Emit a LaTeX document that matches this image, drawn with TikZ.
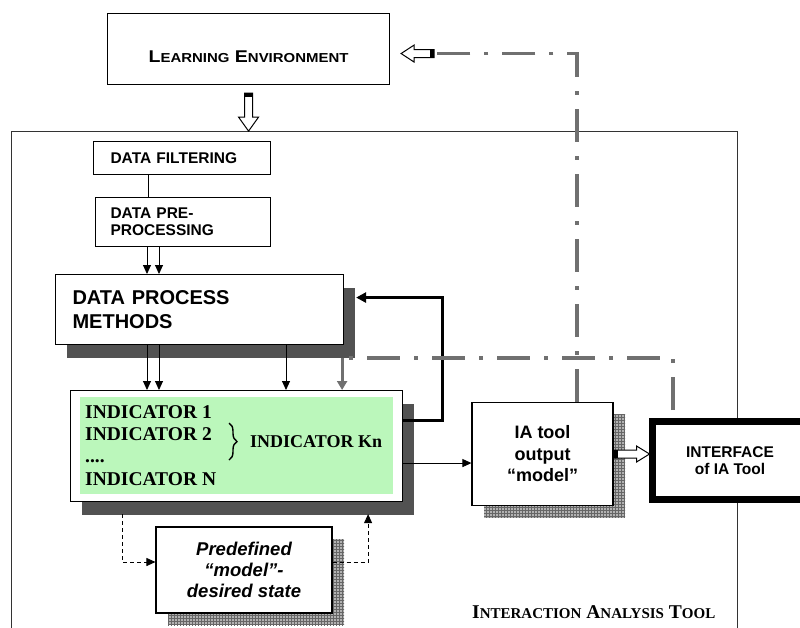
\documentclass[tikz,border=0pt]{standalone}
\usepackage{fontspec}
\setmainfont{Liberation Serif}
\setsansfont{Liberation Sans}
\usepackage{graphicx}
\usetikzlibrary{positioning,calc,arrows.meta,shadows,patterns,decorations.pathreplacing}

\definecolor{indgreen}{RGB}{187,247,187}
\definecolor{linkgray}{RGB}{112,112,112}

\newcommand{\minicap}[2]{{\fontsize{#1}{#1}\selectfont #2}}

\begin{document}
\begin{tikzpicture}[x=1pt,y=-1pt,
    box/.style={draw, fill=white, line width=1.1pt, inner sep=0pt},
    dark shadow/.style={drop shadow={shadow xshift=11pt, shadow yshift=-13pt, fill=black!68, opacity=1}},
    grid shadow/.style={drop shadow={shadow xshift=12pt, shadow yshift=-12pt, fill=black!30, opacity=1,
                        postaction={pattern=grid, pattern color=black!60}}},
    arr/.style={-{Triangle[length=9pt,width=8pt]}, line width=0.9pt},
    fb/.style={-{Triangle[length=10pt,width=10pt]}, line width=3pt},
    dashdot/.style={draw=linkgray, line width=3.5pt, dash pattern=on 33pt off 14pt on 4pt off 14pt},
    grayarr/.style={draw=linkgray, line width=3pt, -{Triangle[length=9pt,width=10pt]}},
    dsh/.style={-{Triangle[length=9pt,width=8pt]}, line width=0.9pt, dash pattern=on 4pt off 3pt},
    hollow/.style={draw, fill=white, line width=1pt}]

  \useasboundingbox (0,0) rectangle (800,627);

  % outer frame of the tool
  \node[draw=black!80, line width=0.9pt, minimum width=726pt, minimum height=540pt,
        anchor=north west] (tool) at (11,131) {};

  \node[box, anchor=north west, minimum width=282pt, minimum height=71pt,
        text height=49pt, text depth=22pt] (env) at (107,13)
    {\sffamily\bfseries\fontsize{17}{17}\selectfont
     \scalebox{1.15}[1]{L\minicap{13}{EARNING} E\minicap{13}{NVIRONMENT}}};

  \node[box, anchor=north west, minimum width=177pt, minimum height=33pt,
        inner xsep=17pt, text width=143pt, align=left,
        font=\sffamily\bfseries\fontsize{15.5}{17}\selectfont] (filt) at (93,141) {DATA FILTERING};
  \node[box, below=22pt of filt.south west, anchor=north west, xshift=2pt,
        minimum width=175pt, minimum height=49pt, inner xsep=15pt, text width=145pt, align=left,
        font=\sffamily\bfseries\fontsize{15.5}{17}\selectfont] (pre) {DATA PRE-\\PROCESSING};

  \node[box, dark shadow, anchor=north west, minimum width=288pt, minimum height=70pt,
        inner xsep=17pt, text width=254pt, align=left,
        font=\sffamily\bfseries\fontsize{20}{24}\selectfont] (dpm) at (55,274) {DATA PROCESS\\METHODS};

  \node[box, dark shadow, anchor=north west, minimum width=332pt, minimum height=111pt] (ind) at (70,390) {};
  \fill[indgreen] ([shift={(10pt,-7pt)}]ind.north west) rectangle ([shift={(-10pt,8pt)}]ind.south east);
  \node[anchor=north west, align=left, inner sep=0pt,
        font=\bfseries\fontsize{19.5}{22.3}\selectfont] (list) at (85,405)
    {INDICATOR 1\\INDICATOR 2\\....\\INDICATOR N};
  \draw[line width=1.4pt, decorate, decoration={brace, amplitude=8pt}]
    ($(ind.north west)+(159,33)$) -- ($(ind.north west)+(159,70)$);
  \node[anchor=base west, inner sep=0pt, font=\bfseries\fontsize{18}{20}\selectfont] (kn) at (250,447) {INDICATOR Kn};

  \node[box, grid shadow, minimum width=176pt, minimum height=86pt, align=center,
        font=\sffamily\bfseries\itshape\fontsize{18.5}{21}\selectfont] (pdm) at (244,570)
    {Predefined\\``model''-\\desired state};

  \node[box, grid shadow, minimum width=141pt, minimum height=103pt, align=center,
        font=\sffamily\bfseries\fontsize{18}{21.5}\selectfont] (ia) at (542.5,454)
    {IA tool\\output\\``model''};

  \node[draw, fill=white, line width=7pt, minimum width=155pt, minimum height=78pt, align=center,
        font=\sffamily\bfseries\fontsize{15.5}{17}\selectfont] (intf) at (730,460.5)
    {INTERFACE\\of IA Tool};

  \node[anchor=base west, inner sep=0pt, font=\bfseries\fontsize{19.5}{20}\selectfont] (title) at (472,618)
    {I\minicap{15}{NTERACTION} A\minicap{15}{NALYSIS} T\minicap{15}{OOL}};

  % connectors
  \draw[line width=0.9pt] ([xshift=55pt]filt.south west) -- ([xshift=53pt]pre.north west);
  \foreach \dx in {52,64} {
    \coordinate (p) at ([xshift=\dx pt]pre.south west);
    \draw[arr] (p) -- (p |- dpm.north);
  }
  \foreach \dx in {92,104,231} {
    \coordinate (q) at ([xshift=\dx pt]dpm.south west);
    \draw[arr] (q) -- (q |- ind.north);
  }
  \draw[fb] ([yshift=25.5pt]ind.east) -- ++(39,0) |- ([xshift=12pt,yshift=12pt]dpm.east);
  \coordinate (tap) at ([yshift=-17pt]ind.east);
  \draw[arr] (tap) -- (tap -| ia.west);

  \draw[dsh] ([xshift=52pt,yshift=-12pt]ind.south west) |- ([yshift=8pt]pdm.west);
  \draw[dsh] ([yshift=8pt]pdm.east) -| ([xshift=-35pt,yshift=-12pt]ind.south east);

  % feedback lines
  \coordinate (envback) at ($(env.east)+(44,4.5)$);
  \draw[dashdot] ([xshift=34.5pt]ia.north) |- (envback);
  \coordinate (intap) at ([xshift=24pt,yshift=8pt]intf.north west);
  \coordinate (back) at ($(dpm.south east)+(-2,13)$);
  \draw[dashdot] (intap) |- (back);
  \draw[grayarr] (back) -- (back |- ind.north);

  % hollow arrows
  \draw[hollow] ([yshift=-8pt]env.south) ++(-4,0) -- ++(8,0) -- ++(0,24) -- ++(6,0)
    -- ++(-10,14) -- ++(-10,-14) -- ++(6,0) -- cycle;
  \fill ([yshift=-8pt]env.south) ++(-4,0) rectangle ++(8,4);
  \draw[hollow] (envback) ++(0,-4) -- ++(-20,0) -- ++(0,-4.5) -- ++(-13,8.5) -- ++(13,8.5)
    -- ++(0,-4.5) -- ++(20,0) -- cycle;
  \fill (envback) ++(0,-4) rectangle ++(-4,8);
  \draw[hollow] (ia.east) ++(0,-4) -- ++(23,0) -- ++(0,-4) -- ++(13,8) -- ++(-13,8)
    -- ++(0,-4) -- ++(-23,0) -- cycle;
  \fill (ia.east) ++(0,-4) rectangle ++(4,8);
\end{tikzpicture}
\end{document}
